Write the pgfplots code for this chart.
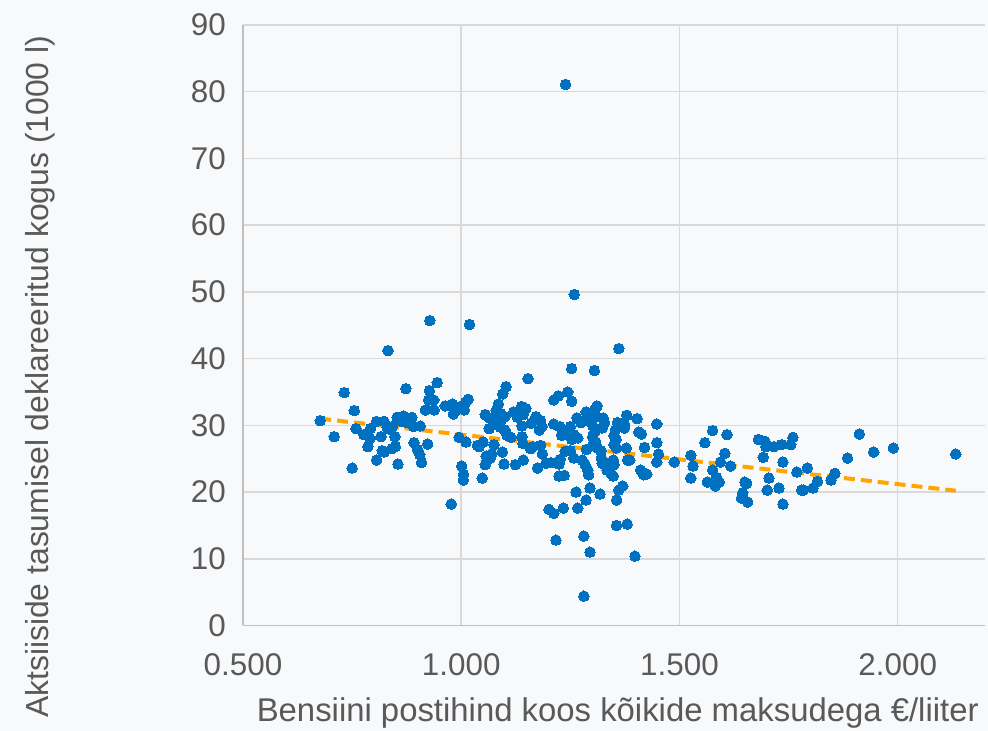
\documentclass[border=0pt]{standalone}
\usepackage{pgfplots}
\pgfplotsset{compat=1.18}
\usepackage{pgfplotstable}
\usepackage{fontspec}
\setmainfont{Liberation Sans}
\definecolor{bg}{RGB}{248,249,251}
\definecolor{gridc}{RGB}{217,217,217}
\definecolor{axc}{RGB}{191,191,191}
\definecolor{txt}{RGB}{89,89,89}
\definecolor{dot}{RGB}{0,112,192}
\definecolor{trend}{RGB}{255,165,0}

\pgfplotstableread{
x y
0.677 30.7
0.709 28.3
0.732 34.9
0.750 23.6
0.755 32.2
0.759 29.5
0.777 28.6
0.786 26.8
0.791 28.0
0.792 29.5
0.806 30.6
0.806 24.8
0.816 28.3
0.819 26.2
0.823 26.0
0.823 30.6
0.830 29.7
0.832 41.2
0.836 29.4
0.842 29.8
0.841 26.5
0.848 28.3
0.849 26.8
0.853 31.2
0.855 24.2
0.861 30.6
0.868 31.4
0.873 35.5
0.876 30.4
0.887 31.2
0.891 29.8
0.892 27.4
0.900 26.4
0.905 25.6
0.906 29.9
0.909 24.4
0.923 27.2
0.918 32.3
0.925 33.8
0.927 35.2
0.928 45.7
0.938 32.3
0.937 33.8
0.945 36.4
0.963 32.9
0.977 18.2
0.980 33.2
0.982 31.7
0.988 32.3
0.997 32.8
0.995 28.2
1.001 23.9
1.005 22.6
1.005 21.8
1.007 32.3
1.010 33.4
1.011 27.5
1.016 33.9
1.019 45.1
1.037 27.0
1.041 26.8
1.048 22.1
1.050 27.5
1.055 31.6
1.055 24.1
1.057 25.4
1.058 24.6
1.064 31.1
1.064 29.5
1.067 25.1
1.070 25.7
1.075 27.1
1.075 30.3
1.078 30.7
1.080 32.2
1.085 33.2
1.090 31.8
1.090 29.7
1.091 30.8
1.094 26.0
1.095 34.7
1.098 24.2
1.100 31.3
1.100 29.3
1.103 35.8
1.105 28.5
1.114 28.2
1.120 32.0
1.124 24.1
1.129 31.2
1.138 32.8
1.139 28.3
1.139 29.9
1.141 27.3
1.142 24.8
1.142 31.6
1.148 32.5
1.153 37.0
1.159 26.5
1.160 30.3
1.164 26.8
1.171 31.3
1.175 23.6
1.179 29.3
1.182 30.7
1.182 27.0
1.185 29.8
1.186 25.7
1.194 24.3
1.201 17.4
1.205 24.4
1.212 16.8
1.212 33.8
1.212 30.2
1.217 12.8
1.222 34.4
1.224 24.2
1.224 22.4
1.226 29.8
1.227 24.9
1.230 28.5
1.234 17.6
1.236 28.8
1.236 22.5
1.239 81.1
1.238 26.1
1.244 35.0
1.250 29.8
1.250 26.2
1.253 38.5
1.253 33.6
1.253 27.9
1.258 28.6
1.258 25.1
1.259 49.6
1.263 20.0
1.265 31.1
1.267 17.6
1.267 28.1
1.274 30.4
1.277 24.8
1.281 13.4
1.281 4.4
1.284 24.1
1.286 32.0
1.286 18.8
1.287 26.4
1.289 30.8
1.290 23.3
1.292 22.6
1.295 20.6
1.295 11.0
1.301 30.0
1.301 28.3
1.302 27.1
1.305 38.2
1.306 32.4
1.306 29.0
1.308 27.5
1.311 32.9
1.309 31.3
1.312 26.6
1.318 19.7
1.320 26.2
1.321 25.1
1.323 24.3
1.323 29.6
1.325 31.1
1.328 30.4
1.334 23.3
1.343 22.8
1.341 24.4
1.348 22.4
1.348 24.8
1.350 24.1
1.350 28.5
1.350 27.1
1.353 29.3
1.355 27.9
1.355 26.6
1.356 18.8
1.356 15.0
1.358 30.4
1.361 41.5
1.361 20.3
1.366 30.2
1.370 20.9
1.374 29.6
1.374 30.1
1.378 26.6
1.379 31.5
1.380 15.2
1.381 24.8
1.386 24.8
1.398 10.4
1.403 31.0
1.407 29.0
1.411 23.3
1.413 28.7
1.418 22.6
1.420 26.7
1.425 22.7
1.448 30.2
1.448 27.4
1.452 25.7
1.448 24.5
1.488 24.5
1.526 25.5
1.531 23.9
1.526 22.1
1.558 27.4
1.564 21.5
1.576 29.2
1.576 23.3
1.582 20.9
1.585 22.2
1.591 21.5
1.594 24.5
1.604 25.8
1.609 28.6
1.617 23.9
1.642 19.1
1.645 19.9
1.650 21.5
1.654 21.3
1.656 18.5
1.681 27.9
1.692 25.2
1.696 27.6
1.698 26.8
1.701 20.3
1.705 22.1
1.716 26.8
1.728 20.6
1.734 27.1
1.737 24.5
1.737 18.2
1.755 27.1
1.760 28.2
1.769 23.0
1.780 20.3
1.784 20.3
1.793 23.6
1.806 20.6
1.816 21.6
1.847 21.8
1.856 22.8
1.885 25.1
1.912 28.7
1.945 26.0
1.990 26.6
2.133 25.7
}\pts

\begin{document}
\begin{tikzpicture}[x=1bp,y=1bp]
\fill[bg] (-243,-105.5) rectangle (745,625.5);
\begin{axis}[
  scale only axis, width=742bp, height=600.5bp,
  at={(0,0)}, anchor=south west,
  xmin=0.5, xmax=2.2, ymin=0, ymax=90,
  xtick={0.5,1,1.5,2}, xticklabels={0.500,1.000,1.500,2.000},
  ytick={0,10,20,30,40,50,60,70,80,90},
  yticklabels={0,10,20,30,40,50,60,70,80,90},
  major tick length=0pt,
  grid=major, grid style={gridc, line width=1.5bp},
  axis lines=left, axis line style={axc, line width=1.5bp, -},
  tick label style={font=\fontsize{31.5}{36}\selectfont, text=txt},
  xticklabel style={anchor=north, inner sep=0pt, yshift=-27.5bp},
  yticklabel style={anchor=east, inner sep=0pt, xshift=-17bp},
  xlabel={Bensiini postihind koos kõikide maksudega €/liiter},
  ylabel={Aktsiiside tasumisel deklareeritud kogus (1000 l)},
  x label style={at={(axis description cs:0.505,-0.1462)}, anchor=center, inner sep=0pt, font=\fontsize{33}{38}\selectfont, text=txt},
  y label style={at={(axis description cs:-0.2736,0.414)}, anchor=center, inner sep=0pt, rotate=0, font=\fontsize{32}{38}\selectfont, text=txt},
]
\addplot[only marks, mark=*, mark size=5.3bp, mark options={draw=dot, fill=dot, line width=0pt}] table[x=x, y=y] {\pts};
\addplot[trend, line width=4bp, dash pattern=on 11bp off 6bp] coordinates {(0.677,31.0) (2.133,20.2)};
\end{axis}
\pgfresetboundingbox
\useasboundingbox (-243,-105.5) rectangle (745,625.5);
\end{tikzpicture}
\end{document}
